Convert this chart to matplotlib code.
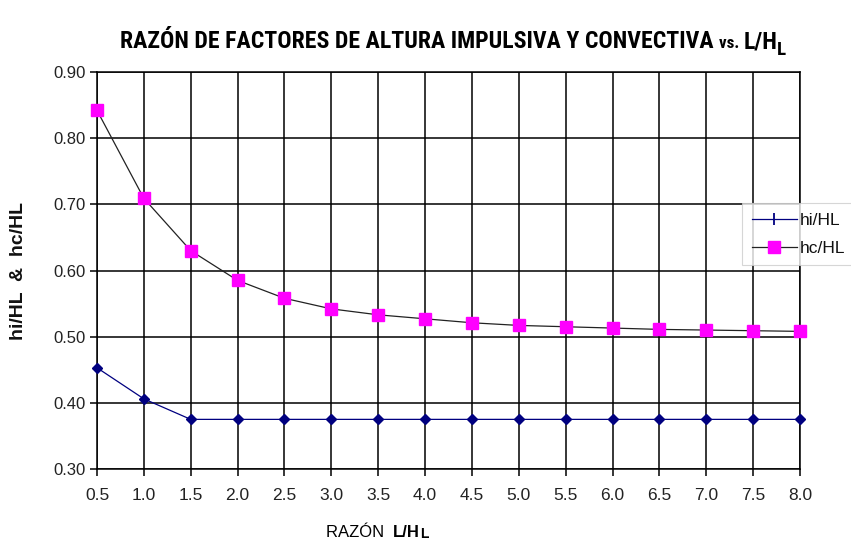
import matplotlib
matplotlib.use("Agg")
import matplotlib.pyplot as plt
from matplotlib.lines import Line2D
from matplotlib import font_manager as fm

ratio = [0.5, 1.0, 1.5, 2.0, 2.5, 3.0, 3.5, 4.0, 4.5, 5.0, 5.5, 6.0, 6.5, 7.0, 7.5, 8.0]
hi_HL = [0.453, 0.406, 0.375, 0.375, 0.375, 0.375, 0.375, 0.375, 0.375, 0.375,
         0.375, 0.375, 0.375, 0.375, 0.375, 0.375]
hc_HL = [0.842, 0.709, 0.630, 0.585, 0.558, 0.542, 0.533, 0.527, 0.521, 0.517,
         0.515, 0.513, 0.511, 0.510, 0.509, 0.508]
yticks = [0.30, 0.40, 0.50, 0.60, 0.70, 0.80, 0.90]


def wnum(w):
    if isinstance(w, (int, float)):
        return w
    return fm.weight_dict.get(str(w).lower(), 400)


# narrow / condensed families installed, with their heaviest weight
cands = {}
for f in fm.fontManager.ttflist:
    n = f.name.lower()
    cond = ('narrow' in n or 'condensed' in n)
    if cond and 'mono' not in n and 'serif' not in n:
        cands[f.name] = max(cands.get(f.name, 0), wnum(f.weight))
bold_cands = [k for k, v in cands.items() if v >= 600]
pref = ['Liberation Sans Narrow', 'Roboto Condensed', 'Open Sans Condensed', 'Noto Sans Condensed']
title_fam = None
for p in pref:
    if p in bold_cands:
        title_fam = p
        break
if title_fam is None and bold_cands:
    title_fam = sorted(bold_cands)[0]

TITLE = ([title_fam] if title_fam else []) + ['Liberation Sans', 'DejaVu Sans']
ARIAL = ['Liberation Sans', 'DejaVu Sans']

fig = plt.figure(figsize=(8.51, 5.42), dpi=100)
ax = fig.add_axes([97/851, 1-469/542, (800-97)/851, (469-72)/542])

ax.plot(ratio, hc_HL, color='#222222', lw=0.9, marker='s', ms=8.5,
        mfc='#FF00FF', mec='#FF00FF', zorder=4, clip_on=False)
ax.plot(ratio, hi_HL, color='#000080', lw=0.9, marker='D', ms=5,
        mfc='#000080', mec='#000080', zorder=4, clip_on=False)

ax.set_xlim(0.5, 8.0)
ax.set_ylim(0.30, 0.90)
ax.set_xticks(ratio)
ax.set_xticklabels([f"{v:.1f}" for v in ratio], family=ARIAL, fontsize=12.5, color='#222222')
ax.set_yticks(yticks)
ax.set_yticklabels([f"{v:.2f}" for v in yticks], family=ARIAL, fontsize=12, color='#222222')
ax.grid(True, color='black', lw=1.1)
ax.set_axisbelow(True)
for s in ax.spines.values():
    s.set_color('black')
    s.set_linewidth(1.1)
ax.tick_params(axis='both', direction='out', length=5, width=1.1, color='black')
ax.tick_params(axis='x', pad=9)
ax.tick_params(axis='y', pad=3)

# y label
fig.text(19/851, 1-271/542, "hi/HL  &  hc/HL", rotation=90, ha='center', va='center',
         family=ARIAL, fontsize=14, fontweight='bold', color='#111111')

fig.canvas.draw()
renderer = fig.canvas.get_renderer()


def chain(pieces, x0, base_y, fam, target_w=None):
    """Place text pieces one after another; optionally scale to a target width."""
    scale = 1.0
    if target_w is not None:
        tmp = []
        x = x0
        for txt, size, dy, w in pieces:
            t = fig.text(x/851, base_y, txt, ha='left', va='baseline', family=fam,
                         fontsize=size, fontweight=w)
            bb = t.get_window_extent(renderer=renderer)
            x = bb.x1
            tmp.append(t)
        for t in tmp:
            t.remove()
        scale = min(1.0, target_w / (x - x0))
    x = x0
    for txt, size, dy, w in pieces:
        t = fig.text(x/851, base_y + dy/542, txt, ha='left', va='baseline', family=fam,
                     fontsize=size*scale, fontweight=w, color='black')
        bb = t.get_window_extent(renderer=renderer)
        x = bb.x1


# title
chain([("RAZÓN DE FACTORES DE ALTURA IMPULSIVA Y CONVECTIVA ", 17.5, 0, 'bold'),
       ("vs. ", 12.5, 0, 'bold'),
       ("L/H", 17.5, 0, 'bold'),
       ("L", 14, -7, 'bold')], 120, 1-48/542, TITLE, target_w=664)

# x label
chain([("RAZÓN  ", 12, 0, 'normal'),
       ("L/H", 12, 0, 'bold'),
       ("L", 10, -1, 'bold')], 326, 1-537/542, ARIAL, target_w=106)

# legend
handles = [Line2D([], [], color='#000080', lw=0.9, marker='|', ms=8, mew=1.3),
           Line2D([], [], color='#222222', lw=0.9, marker='s', ms=8.5,
                  mfc='#FF00FF', mec='#FF00FF')]
leg = fig.legend(handles, ['hi/HL', 'hc/HL'], loc='upper left',
                 bbox_to_anchor=(742/851, 1-203/542), frameon=True, fancybox=False,
                 prop={'family': ARIAL, 'size': 12.5}, handlelength=2.6,
                 borderpad=0.55, labelspacing=0.75, handletextpad=0.2, borderaxespad=0)
leg.get_frame().set_edgecolor('#cccccc')
leg.get_frame().set_linewidth(0.8)
for t in leg.get_texts():
    t.set_color('#111111')

fig.savefig("out.png", dpi=100)
